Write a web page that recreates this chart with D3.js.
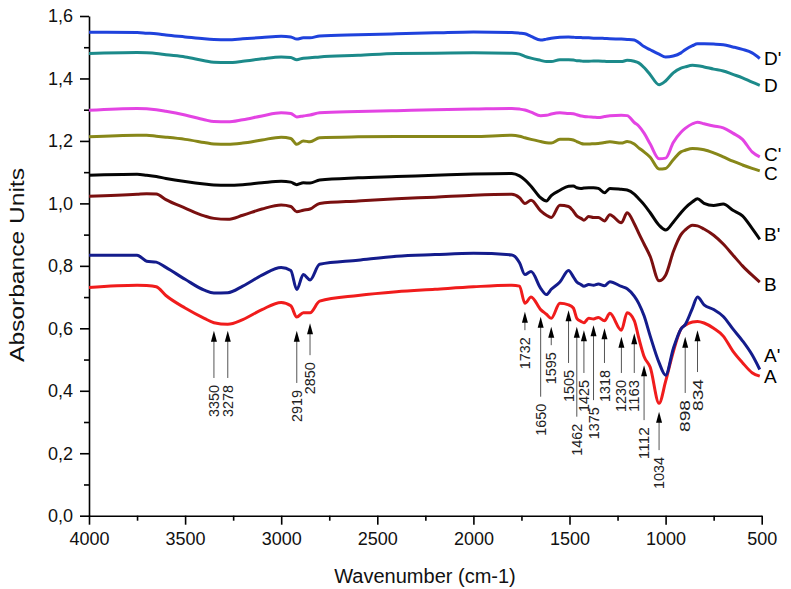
<!DOCTYPE html>
<html>
<head>
<meta charset="utf-8">
<script src="https://cdn.jsdelivr.net/npm/d3@7"></script>
<style>
  body { margin: 0; background: #fff; }
  svg { display: block; font-family: "Liberation Sans", Arial, sans-serif; }
</style>
</head>
<body>
<div id="ftir_chart"></div>
<script>
// Wavenumber grid shared by all spectra (cm-1)
const wavenumbers = [4000, 3750, 3700, 3650, 3600, 3500, 3400, 3350, 3278, 3200, 3100, 3000, 2950, 2919, 2885, 2850, 2800, 2600, 2400, 2200, 2000,
    1800, 1760, 1732, 1700, 1650, 1620, 1595, 1550, 1505, 1480, 1462, 1440, 1425, 1400, 1375, 1350, 1318, 1290, 1230, 1200,
    1163, 1140, 1112, 1080, 1034, 1000, 960, 920, 898, 860, 834, 800, 750, 700, 650, 600, 550, 510];

// Absorbance of each sample at those wavenumbers
const seriesA = [0.731, 0.738, 0.737, 0.733, 0.705, 0.665, 0.632, 0.618, 0.613, 0.628, 0.66, 0.683, 0.672, 0.636, 0.650, 0.650, 0.687, 0.705, 0.717, 0.725, 0.733,
    0.738, 0.735, 0.68, 0.70, 0.66, 0.645, 0.632, 0.68, 0.675, 0.665, 0.632, 0.622, 0.618, 0.632, 0.630, 0.635, 0.624, 0.648, 0.594, 0.650,
    0.625, 0.57, 0.51, 0.475, 0.36, 0.43, 0.525, 0.598, 0.61, 0.62, 0.622, 0.617, 0.60, 0.575, 0.527, 0.49, 0.458, 0.447];
const seriesA2 = [0.834, 0.834, 0.815, 0.812, 0.795, 0.757, 0.722, 0.713, 0.714, 0.735, 0.770, 0.795, 0.785, 0.724, 0.772, 0.755, 0.805, 0.818, 0.831, 0.836, 0.840,
    0.835, 0.81, 0.772, 0.782, 0.728, 0.708, 0.725, 0.748, 0.785, 0.765, 0.748, 0.74, 0.735, 0.74, 0.738, 0.742, 0.736, 0.749, 0.734, 0.727,
    0.703, 0.68, 0.64, 0.575, 0.49, 0.45, 0.535, 0.598, 0.612, 0.665, 0.70, 0.675, 0.66, 0.638, 0.598, 0.56, 0.515, 0.468];
const seriesB = [1.023, 1.029, 1.031, 1.030, 1.012, 0.985, 0.960, 0.952, 0.949, 0.962, 0.982, 0.995, 0.99, 0.973, 0.978, 0.982, 1.0, 1.008, 1.015, 1.02, 1.026,
    1.029, 1.018, 1.0, 1.01, 0.976, 0.962, 0.955, 0.994, 0.99, 0.975, 0.96, 0.952, 0.946, 0.958, 0.955, 0.955, 0.944, 0.964, 0.938, 0.97,
    0.935, 0.905, 0.87, 0.83, 0.752, 0.77, 0.845, 0.90, 0.915, 0.93, 0.928, 0.918, 0.898, 0.87, 0.835, 0.80, 0.77, 0.748];
const seriesB2 = [1.090, 1.093, 1.090, 1.086, 1.080, 1.070, 1.062, 1.059, 1.058, 1.060, 1.066, 1.071, 1.068, 1.060, 1.066, 1.065, 1.075, 1.082, 1.086, 1.09, 1.094,
    1.096, 1.088, 1.075, 1.055, 1.018, 1.008, 1.025, 1.042, 1.055, 1.056, 1.05, 1.048, 1.049, 1.05, 1.05, 1.048, 1.034, 1.048, 1.045, 1.043,
    1.03, 1.015, 0.996, 0.97, 0.93, 0.915, 0.94, 0.97, 0.985, 1.005, 1.015, 1.0, 0.993, 0.998, 0.978, 0.96, 0.92, 0.885];
const seriesC = [1.213, 1.218, 1.218, 1.215, 1.212, 1.205, 1.195, 1.190, 1.189, 1.193, 1.203, 1.212, 1.208, 1.189, 1.200, 1.197, 1.21, 1.213, 1.214, 1.214, 1.214,
    1.218, 1.215, 1.21, 1.205, 1.198, 1.194, 1.193, 1.205, 1.205, 1.203, 1.198, 1.192, 1.19, 1.19, 1.191, 1.192, 1.195, 1.197, 1.193, 1.198,
    1.19, 1.178, 1.165, 1.148, 1.11, 1.112, 1.14, 1.165, 1.17, 1.176, 1.175, 1.172, 1.162, 1.149, 1.135, 1.123, 1.112, 1.104];
const seriesC2 = [1.298, 1.304, 1.303, 1.300, 1.295, 1.283, 1.268, 1.262, 1.261, 1.268, 1.280, 1.29, 1.288, 1.277, 1.28, 1.283, 1.29, 1.294, 1.297, 1.300, 1.302,
    1.304, 1.302, 1.299, 1.292, 1.281, 1.282, 1.286, 1.29, 1.288, 1.287, 1.284, 1.28, 1.278, 1.277, 1.276, 1.275, 1.278, 1.281, 1.282, 1.281,
    1.259, 1.248, 1.225, 1.19, 1.143, 1.145, 1.195, 1.228, 1.24, 1.255, 1.26, 1.255, 1.248, 1.242, 1.225, 1.205, 1.165, 1.149];
const seriesD = [1.480, 1.483, 1.482, 1.480, 1.476, 1.469, 1.457, 1.452, 1.451, 1.455, 1.463, 1.469, 1.467, 1.460, 1.465, 1.466, 1.469, 1.474, 1.48, 1.481, 1.482,
    1.481, 1.478, 1.471, 1.465, 1.458, 1.454, 1.454, 1.46, 1.46, 1.459, 1.457, 1.456, 1.455, 1.455, 1.456, 1.456, 1.455, 1.454, 1.454, 1.458,
    1.455, 1.45, 1.435, 1.412, 1.38, 1.392, 1.418, 1.433, 1.437, 1.442, 1.441, 1.437, 1.43, 1.424, 1.413, 1.402, 1.388, 1.378];
const seriesD2 = [1.548, 1.547, 1.545, 1.543, 1.539, 1.533, 1.527, 1.525, 1.524, 1.527, 1.531, 1.535, 1.533, 1.526, 1.53, 1.53, 1.536, 1.540, 1.543, 1.546, 1.549,
    1.547, 1.545, 1.543, 1.535, 1.523, 1.526, 1.529, 1.532, 1.533, 1.532, 1.531, 1.531, 1.530, 1.530, 1.529, 1.529, 1.528, 1.527, 1.526, 1.525,
    1.523, 1.515, 1.502, 1.492, 1.478, 1.469, 1.472, 1.482, 1.492, 1.505, 1.511, 1.511, 1.51, 1.508, 1.501, 1.493, 1.482, 1.464];

const seriesNames = ["A", "A'", "B", "B'", "C", "C'", "D", "D'"];
const seriesValues = [seriesA, seriesA2, seriesB, seriesB2, seriesC, seriesC2, seriesD, seriesD2];

// Marked bands on spectrum A: wavenumber, arrow tip and tail (absorbance units)
const peakLabels = [3350, 3278, 2919, 2850, 1732, 1650, 1595, 1505, 1462, 1425, 1375, 1318, 1230, 1163, 1112, 1034, 898, 834];
const peakTips = [0.592, 0.592, 0.592, 0.616, 0.653, 0.637, 0.605, 0.658, 0.605, 0.594, 0.610, 0.600, 0.573, 0.584, 0.482, 0.333, 0.573, 0.594];
const peakTails = [0.441, 0.441, 0.425, 0.514, 0.594, 0.381, 0.546, 0.489, 0.317, 0.457, 0.370, 0.489, 0.457, 0.457, 0.306, 0.210, 0.393, 0.460];

const xTicks = [4000, 3500, 3000, 2500, 2000, 1500, 1000, 500];
const yTicks = [0, 0.2, 0.4, 0.6, 0.8, 1.0, 1.2, 1.4, 1.6];

// colours and label nudges (px) per spectrum
const style = {
    "A": { color: "#f01c1c", dy: 0 },
    "A'": { color: "#141c8c", dy: -14 },
    "B": { color: "#7a1010", dy: 2 },
    "B'": { color: "#050505", dy: -5 },
    "C": { color: "#878719", dy: 2 },
    "C'": { color: "#e344e3", dy: -3 },
    "D": { color: "#1c8a8a", dy: 0 },
    "D'": { color: "#1f42dc", dy: 0 }
};

const W = 791, H = 589;
const svg = d3.select("#ftir_chart")
    .append("svg")
    .attr("width", W)
    .attr("height", H);

const x = d3.scaleLinear().domain([4000, 500]).range([89, 761.7]);
const y = d3.scaleLinear().domain([0, 1.6]).range([515.7, 16]);

const commaFmt = d => d3.format(".1f")(d).replace(".", ",");

// axes
const xAxis = svg.append("g")
    .attr("transform", `translate(0,${y(0)})`)
    .call(d3.axisBottom(x).tickValues(xTicks).tickSize(9).tickSizeOuter(0).tickPadding(8).tickFormat(d3.format("d")));
svg.append("g")
    .attr("transform", `translate(0,${y(0)})`)
    .call(d3.axisBottom(x).tickValues(d3.range(3750, 500, -500)).tickSize(5).tickFormat(""))
    .select(".domain").remove();

const yAxis = svg.append("g")
    .attr("transform", `translate(${x(4000)},0)`)
    .call(d3.axisLeft(y).tickValues(yTicks).tickSize(9).tickSizeOuter(0).tickPadding(7).tickFormat(commaFmt));
svg.append("g")
    .attr("transform", `translate(${x(4000)},0)`)
    .call(d3.axisLeft(y).tickValues(d3.range(1, 16, 2).map(i => i / 10)).tickSize(5).tickFormat(""))
    .select(".domain").remove();

svg.selectAll(".domain, .tick line").attr("stroke", "#000").attr("stroke-width", 1.6);
svg.selectAll(".tick text").attr("font-size", 18).attr("fill", "#111").attr("font-family", "Liberation Sans, Arial, sans-serif");

// axis titles
svg.append("text")
    .attr("x", 425)
    .attr("y", 583)
    .attr("text-anchor", "middle")
    .attr("font-size", 20)
    .attr("fill", "#111")
    .text("Wavenumber (cm-1)");

svg.append("text")
    .attr("transform", "translate(24,265) rotate(-90)")
    .attr("text-anchor", "middle")
    .attr("font-size", 20)
    .attr("textLength", 194)
    .attr("lengthAdjust", "spacingAndGlyphs")
    .attr("fill", "#111")
    .text("Absorbance Units");

// spectra
const line = d3.line()
    .x(d => x(d[0]))
    .y(d => y(d[1]))
    .curve(d3.curveMonotoneX);

const spectra = seriesNames.map((name, i) => ({
    name: name,
    points: wavenumbers.map((w, j) => [w, seriesValues[i][j]])
}));

svg.selectAll(".spectrum")
    .data(spectra)
    .join("path")
    .attr("class", "spectrum")
    .attr("fill", "none")
    .attr("stroke", d => style[d.name].color)
    .attr("stroke-width", 3)
    .attr("stroke-linejoin", "round")
    .attr("d", d => line(d.points));

svg.selectAll(".spectrum-label")
    .data(spectra)
    .join("text")
    .attr("class", "spectrum-label")
    .attr("x", 764)
    .attr("y", d => y(d.points[d.points.length - 1][1]) + style[d.name].dy)
    .attr("dy", "0.36em")
    .attr("font-size", 19)
    .attr("fill", "#000")
    .text(d => d.name);

// band annotations
const peaks = peakLabels.map((w, i) => ({ w: w, tip: peakTips[i], tail: peakTails[i] }));
const ann = svg.selectAll(".peak")
    .data(peaks)
    .join("g")
    .attr("class", "peak")
    .attr("transform", d => `translate(${x(d.w)},0)`);

ann.append("line")
    .attr("y1", d => y(d.tip) + 10)
    .attr("y2", d => y(d.tail))
    .attr("stroke", "#555")
    .attr("stroke-width", 1);

ann.append("path")
    .attr("d", d => `M0,${y(d.tip)} L-3,${y(d.tip) + 11} L3,${y(d.tip) + 11} Z`)
    .attr("fill", "#000");

ann.append("text")
    .attr("transform", d => `translate(0,${y(d.tail) + 7}) rotate(-90)`)
    .attr("text-anchor", "end")
    .attr("dy", "0.36em")
    .attr("font-size", 14)
    .attr("textLength", 32)
    .attr("lengthAdjust", "spacingAndGlyphs")
    .attr("fill", "#222")
    .text(d => d.w);
</script>
</body>
</html>
